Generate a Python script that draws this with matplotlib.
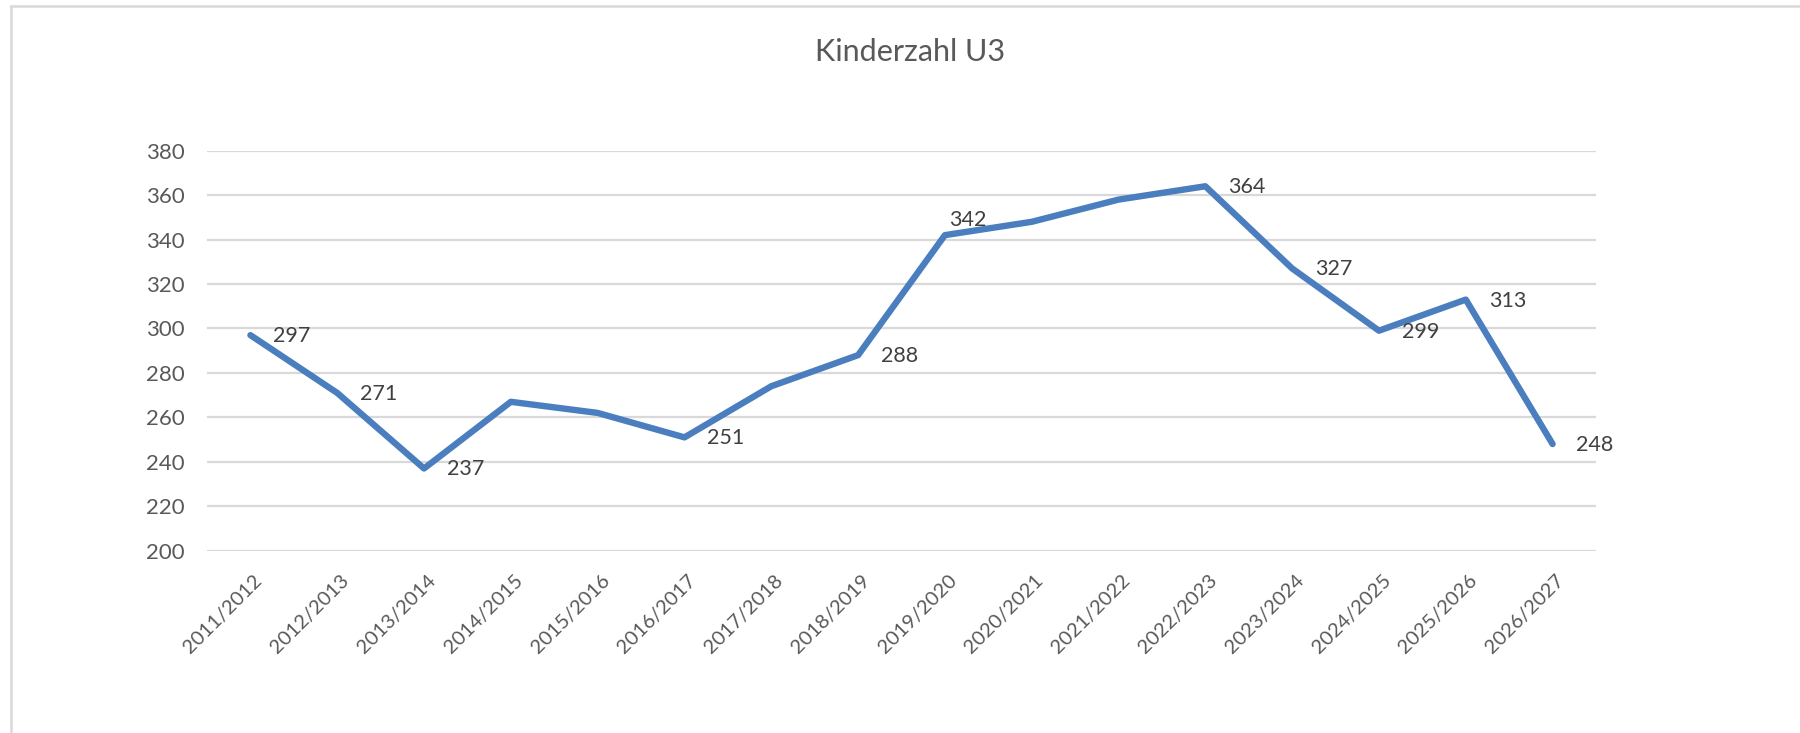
import matplotlib
matplotlib.use("Agg")
import matplotlib.pyplot as plt
from matplotlib.lines import Line2D
from matplotlib.transforms import ScaledTranslation

# ---- data ----
school_years = ["2011/2012", "2012/2013", "2013/2014", "2014/2015", "2015/2016",
                "2016/2017", "2017/2018", "2018/2019", "2019/2020", "2020/2021",
                "2021/2022", "2022/2023", "2023/2024", "2024/2025", "2025/2026",
                "2026/2027"]
children_u3 = [297, 271, 237, 267, 262, 251, 274, 288, 342, 348, 358, 364,
               327, 299, 313, 248]
labelled = [True, True, True, False, False, True, False, True, True, False,
            False, True, True, True, True, True]
y_ticks = [200, 220, 240, 260, 280, 300, 320, 340, 360, 380]
title = "Kinderzahl U3"

# label offsets in pixels (dx, dy) relative to point; default right of point
label_offsets = {8: (4, 15)}

plt.rcParams['font.family'] = ['Lato', 'DejaVu Sans']

DPI = 100
fig = plt.figure(figsize=(18, 7.33), dpi=DPI)
fig.patch.set_facecolor("white")

ax = fig.add_axes([207/1800, 1 - 550.7/733, (1596-207)/1800, 400/733])

x = list(range(len(school_years)))
ax.plot(x, children_u3, color="#4A7EBF", linewidth=4.6, solid_joinstyle="round",
        solid_capstyle="round", zorder=3)

ax.set_xlim(-0.5, len(school_years) - 0.5)
ax.set_ylim(200, 380)
ax.set_yticks(y_ticks)
ax.yaxis.grid(True, color="#D9D9D9", linewidth=1.6)
ax.set_axisbelow(True)
for s in ax.spines.values():
    s.set_visible(False)

ax.tick_params(axis="y", length=0, pad=16, labelsize=16, labelcolor="#595959")
ax.tick_params(axis="x", length=0, pad=15, labelsize=14.5, labelcolor="#595959")
ax.set_xticks(x)
ax.set_xticklabels(school_years, rotation=45, ha="right", va="top",
                   rotation_mode="anchor")
off = ScaledTranslation(3/DPI, 0, fig.dpi_scale_trans)
for lab in ax.get_xticklabels():
    lab.set_transform(lab.get_transform() + off)

for i, (v, show) in enumerate(zip(children_u3, labelled)):
    if not show:
        continue
    dx, dy = label_offsets.get(i, (23, -1))
    ax.annotate(str(v), (i, v), xytext=(dx * 72 / DPI, dy * 72 / DPI),
                textcoords="offset points", ha="left", va="center",
                fontsize=15.5, color="#404040", zorder=4)

fig.text(910/1800, 1 - 52/733, title, ha="center", va="center",
         fontsize=22, color="#595959")

# chart-area border (top and left visible)
fig.add_artist(Line2D([11/1800, 1], [1 - 6/733, 1 - 6/733], color="#D9D9D9",
                      linewidth=1.8, transform=fig.transFigure))
fig.add_artist(Line2D([11/1800, 11/1800], [0, 1 - 6/733], color="#D9D9D9",
                      linewidth=1.8, transform=fig.transFigure))

fig.savefig("out.png", dpi=DPI, facecolor="white")
